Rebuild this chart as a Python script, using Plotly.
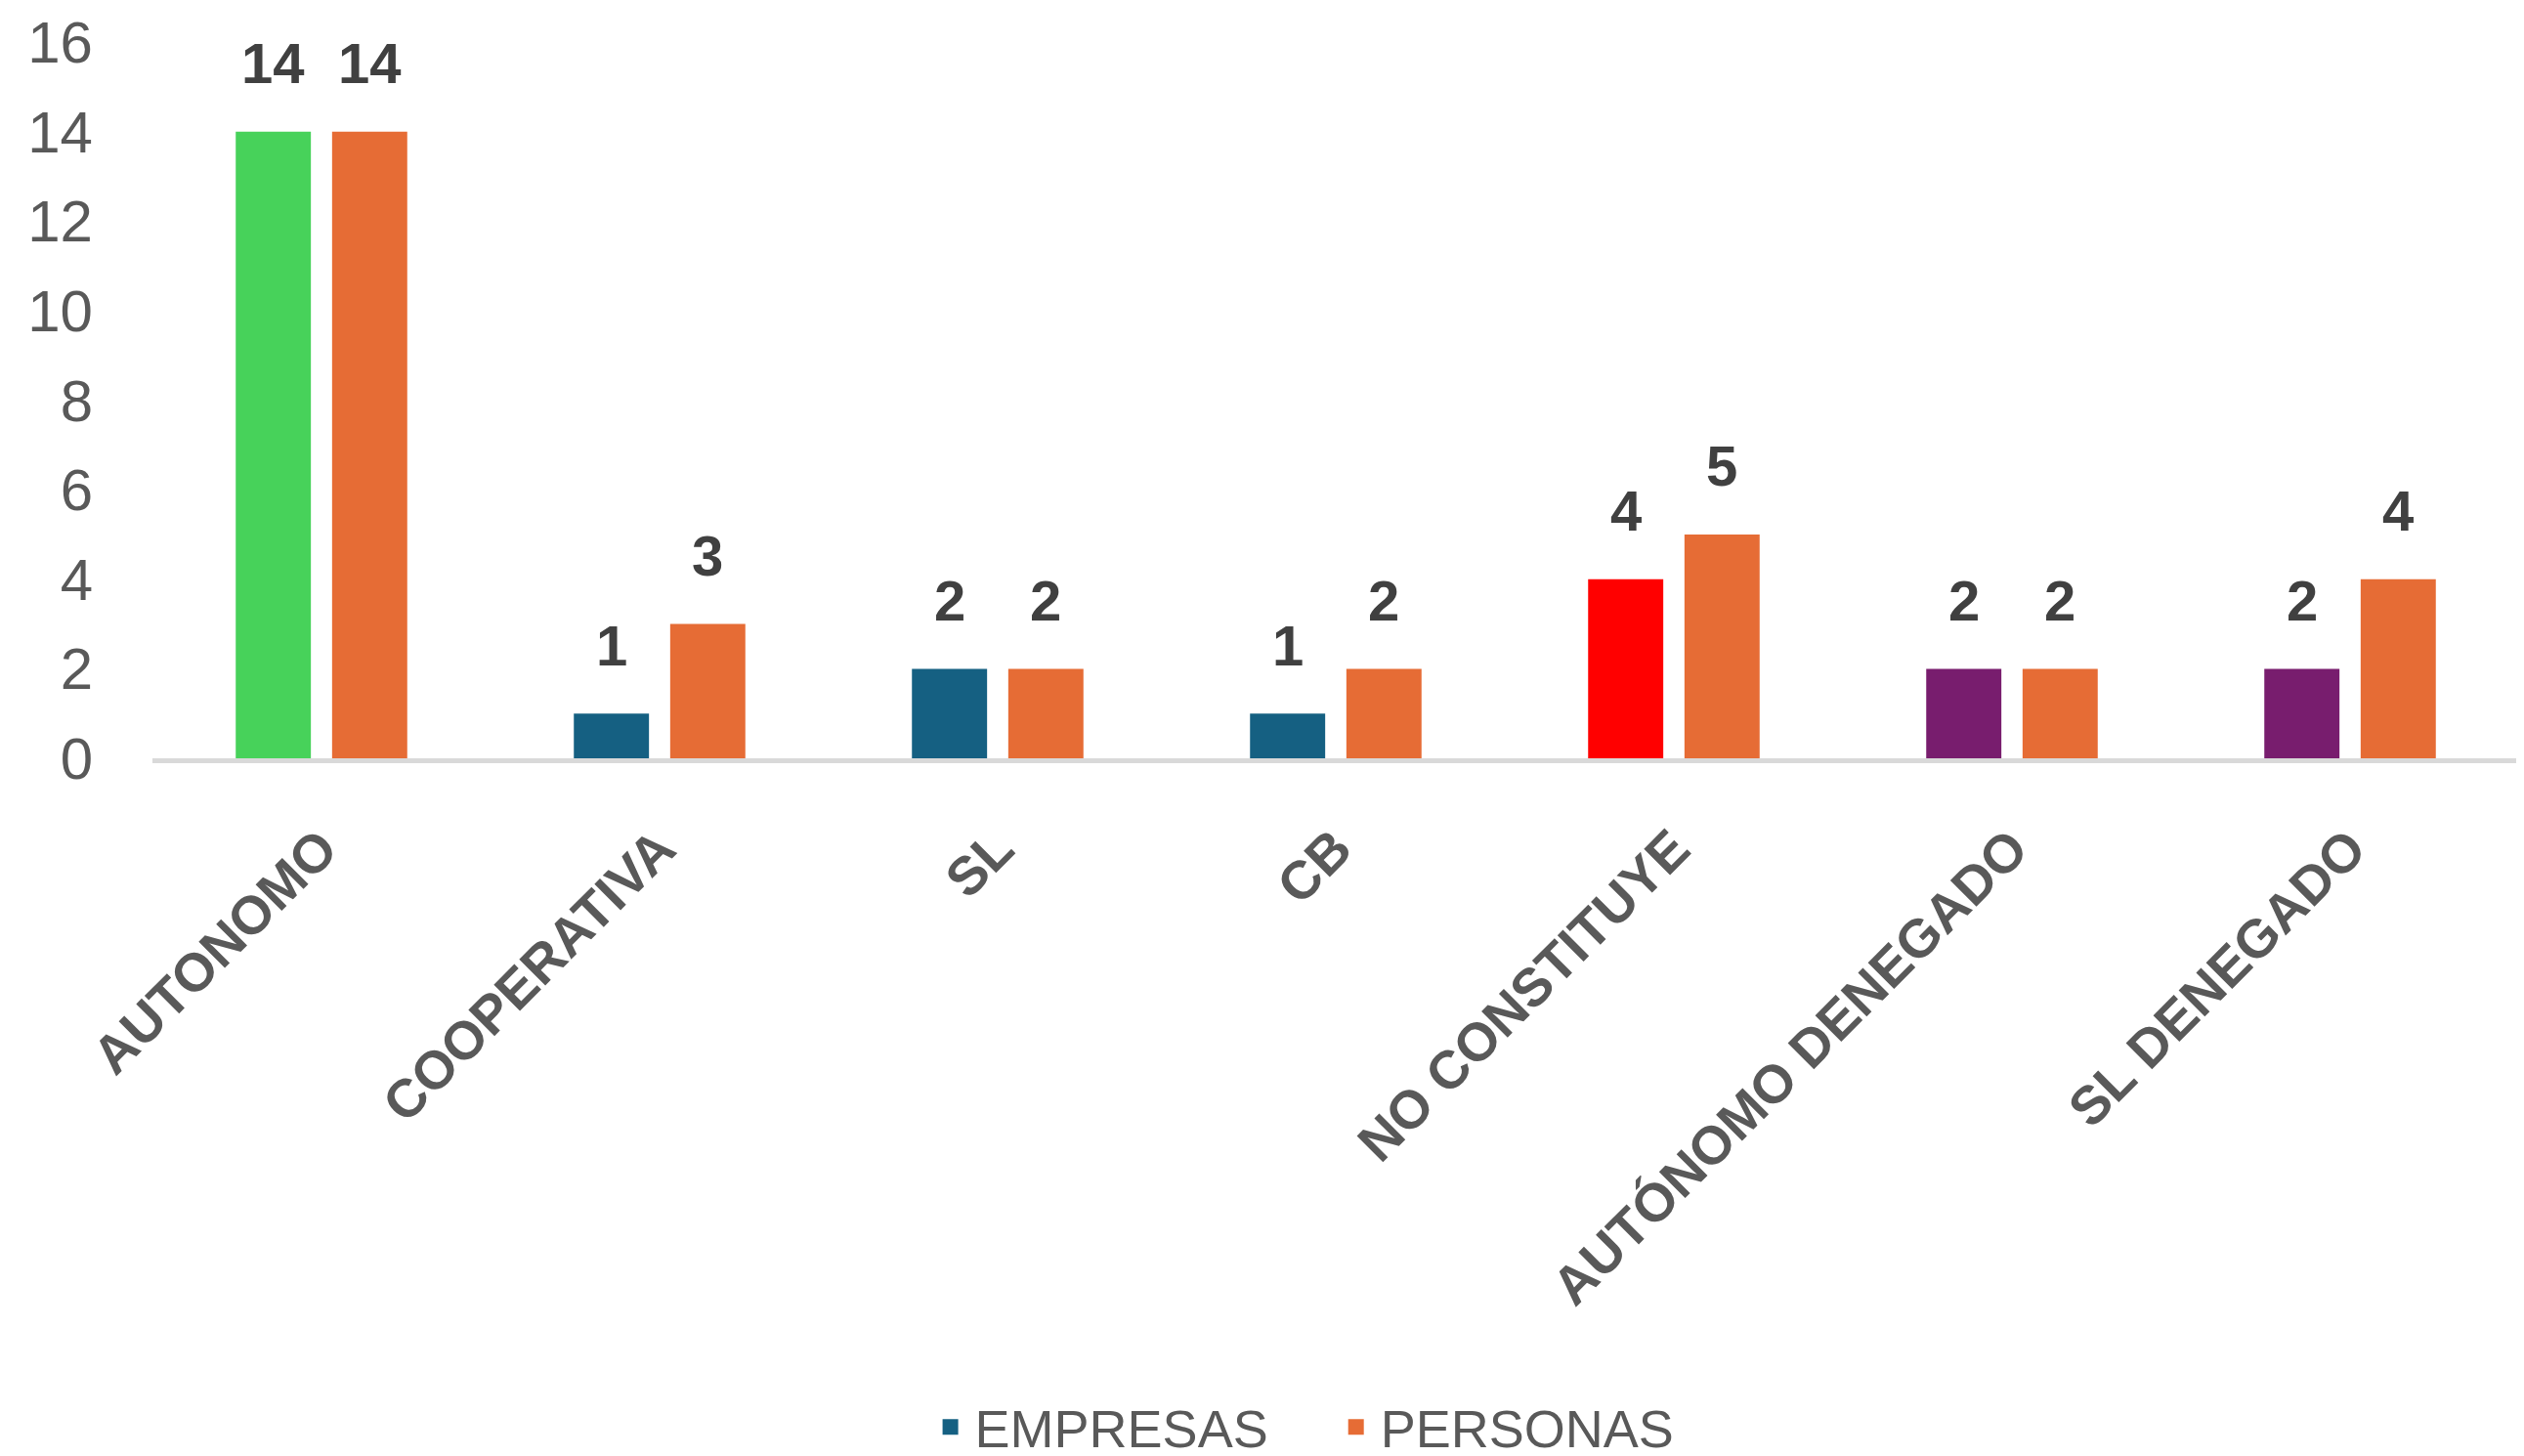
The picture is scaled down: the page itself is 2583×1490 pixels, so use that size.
import plotly.graph_objects as go

categories = ["AUTONOMO", "COOPERATIVA", "SL", "CB", "NO CONSTITUYE", "AUTÓNOMO DENEGADO", "SL DENEGADO"]
empresas = [14, 1, 2, 1, 4, 2, 2]
personas = [14, 3, 2, 2, 5, 2, 4]
empresas_colors = ["#47D25A", "#156082", "#156082", "#156082", "#FF0000", "#781D6E", "#781D6E"]
empresas_legend_color = "#156082"
personas_color = "#E66C35"
series_names = ["EMPRESAS", "PERSONAS"]
y_ticks = [0, 2, 4, 6, 8, 10, 12, 14, 16]

W, H = 2583, 1490
ML, MR, MT, MB = 148, 13, 35, 722
BARGAP, BARGROUPGAP = 0.43, 0.22
FONT = "Liberation Sans, Arial, sans-serif"

fig = go.Figure()
fig.add_trace(go.Bar(name=series_names[0], x=categories, y=empresas, showlegend=False,
                     marker=dict(color=empresas_colors, line=dict(width=0))))
fig.add_trace(go.Bar(name=series_names[1], x=categories, y=personas, showlegend=False,
                     marker=dict(color=personas_color, line=dict(width=0))))
# legend entries (square swatches)
for name, col, pad in ((series_names[0], empresas_legend_color, "\u00a0\u00a0\u00a0\u00a0"),
                       (series_names[1], personas_color, "")):
    fig.add_trace(go.Scatter(name=name + pad, x=[None], y=[None], mode="markers",
                             marker=dict(symbol="square", size=30, color=col, line=dict(width=0)),
                             showlegend=True, hoverinfo="skip"))

plot_w = W - ML - MR
cat_px = plot_w / len(categories)
shift = (1 - BARGAP) / 4 * cat_px

annotations = []
for i, c in enumerate(categories):
    for val, sgn in ((empresas[i], -1), (personas[i], 1)):
        annotations.append(dict(x=c, y=val, xref="x", yref="y", text=str(val),
                                showarrow=False, xshift=sgn * shift, yshift=70,
                                yanchor="middle",
                                font=dict(family=FONT, size=58, color="#404040", weight="bold")))

fig.update_layout(
    width=W, height=H,
    margin=dict(l=ML, r=MR, t=MT, b=MB, pad=0, autoexpand=False),
    paper_bgcolor="white", plot_bgcolor="white",
    barmode="group", bargap=BARGAP, bargroupgap=BARGROUPGAP,
    font=dict(family=FONT, color="#595959"),
    showlegend=True,
    legend=dict(orientation="h", x=0.486, xanchor="center", y=-0.934, yanchor="middle",
                font=dict(family=FONT, size=54, color="#595959"),
                itemwidth=40, itemsizing="trace", tracegroupgap=0, traceorder="normal"),
    annotations=annotations,
)
fig.update_xaxes(range=[-0.5, len(categories) - 0.5], showline=True, linecolor="#D9D9D9",
                 linewidth=5, tickangle=-45, ticks="", showgrid=False, zeroline=False,
                 automargin=False,
                 tickfont=dict(family=FONT, size=55, color="#595959", weight="bold"),
                 ticklabelstandoff=33)
fig.update_yaxes(range=[0, 16], tickvals=y_ticks, showgrid=False, zeroline=False,
                 showline=False, ticks="", automargin=False,
                 tickfont=dict(family=FONT, size=60, color="#595959"),
                 ticklabelstandoff=60)

fig.write_html("out.html")
